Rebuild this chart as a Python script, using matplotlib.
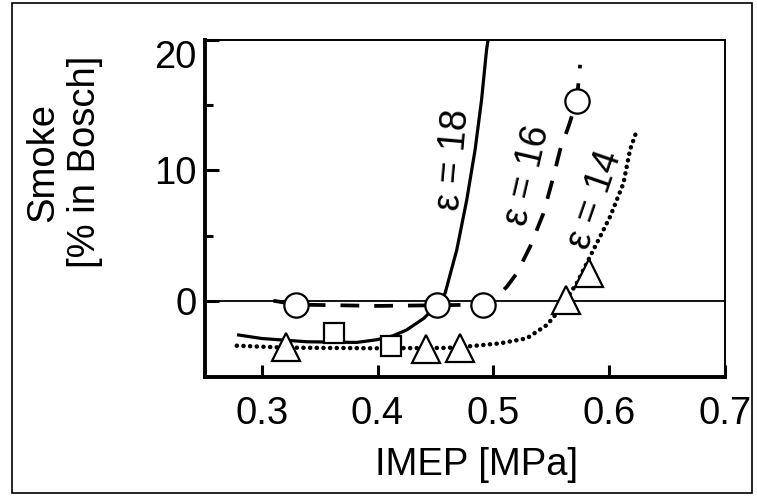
import matplotlib
matplotlib.use("Agg")
import matplotlib.pyplot as plt
from matplotlib.patches import Rectangle

plt.rcParams['font.family'] = ['Liberation Sans', 'DejaVu Sans']

# ---- data ----
circle_x = [0.330, 0.451, 0.491, 0.572]
circle_y = [-0.3, -0.3, -0.3, 15.3]
square_x = [0.362, 0.412]
square_y = [-2.5, -3.45]
tri_x = [0.321, 0.442, 0.471, 0.5625, 0.583]
tri_y = [-3.55, -3.7, -3.6, 0.05, 2.1]

e18_x = [0.280, 0.300, 0.339, 0.382, 0.399, 0.413, 0.425, 0.440, 0.451, 0.4583, 0.4684, 0.4770, 0.4842, 0.4898, 0.4941, 0.4954]
e18_y = [-2.63, -2.9, -3.15, -3.2, -3.0, -2.7, -2.25, -1.35, -0.35, 0.57, 3.9, 7.73, 11.57, 15.4, 19.24, 20.0]

e16_x = [0.310, 0.330, 0.400, 0.451, 0.491, 0.503, 0.5116, 0.5202, 0.5317, 0.5432, 0.5518, 0.5576, 0.5650, 0.5720, 0.5749]
e16_y = [0.0, -0.3, -0.4, -0.35, -0.3, 0.3, 1.07, 2.1, 4.14, 6.7, 9.5, 11.57, 13.4, 15.3, 18.1]

e14_x = [0.2784, 0.320, 0.400, 0.460, 0.4813, 0.5058, 0.5288, 0.5461, 0.5547, 0.5625, 0.572, 0.5864, 0.6008, 0.6123, 0.618, 0.6238]
e14_y = [-3.45, -3.6, -3.65, -3.62, -3.48, -3.27, -2.89, -1.87, -0.97, 0.05, 1.34, 3.9, 6.45, 9.0, 11.57, 13.05]

curve_labels = ["ε = 18", "ε = 16", "ε = 14"]
label_pos = [(0.4655, 10.8, 85), (0.5295, 9.6, 77), (0.5875, 7.7, 71)]

x_ticks = [0.3, 0.4, 0.5, 0.6, 0.7]
x_ticklabels = ["0.3", "0.4", "0.5", "0.6", "0.7"]
y_ticks = [0, 10, 20]
y_ticklabels = ["0", "10", "20"]
y_minor = [5, 15]

# ---- figure ----
W, H = 757, 497
fig = plt.figure(figsize=(W/100, H/100), dpi=100)
fig.patch.set_facecolor('white')
ax = fig.add_axes([205/W, 1-376.7/H, 520/W, 336.7/H])

ax.axhline(0, color='black', lw=1.3, zorder=1)

ax.plot(e18_x, e18_y, color='black', lw=2.3, ls='-', zorder=2)
ax.plot(e16_x, e16_y, color='black', lw=2.7, dashes=(5, 4), zorder=2)
ax.plot(e14_x, e14_y, color='black', lw=3.2, ls=(0, (0.05, 1.45)), dash_capstyle='round', zorder=2)

mk = dict(markerfacecolor='white', markeredgecolor='black', markeredgewidth=1.6, ls='none', zorder=3)
ax.plot(circle_x, circle_y, marker='o', markersize=17.5, **mk)
ax.plot(square_x, square_y, marker='s', markersize=14, **mk)
ax.plot(tri_x, tri_y, marker='^', markersize=19.5, **mk)

for txt, (lx, ly, rot) in zip(curve_labels, label_pos):
    ax.text(lx, ly, txt, rotation=rot, fontsize=27, ha='center', va='center',
            rotation_mode='anchor', zorder=4)

ax.set_xlim(0.251, 0.7)
ax.set_ylim(-5.83, 20)
ax.set_xticks(x_ticks)
ax.set_xticklabels(x_ticklabels)
ax.set_yticks(y_ticks)
ax.set_yticklabels(y_ticklabels)
ax.set_yticks(y_minor, minor=True)
ax.tick_params(axis='both', which='both', direction='in', labelsize=27.5, width=2.2)
ax.tick_params(axis='x', which='major', length=8.5, pad=14)
ax.tick_params(axis='y', which='major', length=10, pad=6)
ax.tick_params(axis='y', which='minor', length=6)
ax.get_yticklabels()[-1].set_va('top')

for s in ['left', 'bottom']:
    ax.spines[s].set_linewidth(2.8)
for s in ['top', 'right']:
    ax.spines[s].set_linewidth(1.4)

fig.text(477/W, 1-465/H, "IMEP [MPa]", fontsize=27.5, ha='center', va='center')
fig.text(64/W, 1-162/H, "Smoke\n[% in Bosch]", fontsize=27.5, rotation=90,
         ha='center', va='center', multialignment='center', linespacing=1.2)

fig.patches.append(Rectangle((12/W, 4/H), (W-17)/W, (H-7)/H, transform=fig.transFigure,
                             fill=False, edgecolor='black', lw=1.2))

fig.savefig("out.png", dpi=100)
